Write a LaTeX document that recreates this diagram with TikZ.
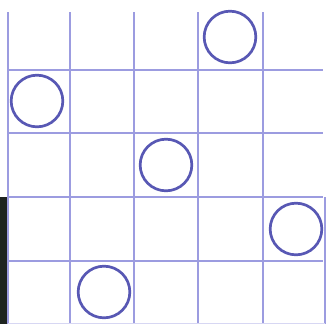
\documentclass[tikz,border=0pt]{standalone}
\usepackage{xcolor}
\usetikzlibrary{positioning}
\definecolor{gridline}{HTML}{9C9CE0}
\definecolor{ringline}{HTML}{5858B4}
\definecolor{edgeshade}{HTML}{1E2420}
\tikzset{
  gridrule/.style={draw=gridline, line width=1pt},
  ring/.style={circle, draw=ringline, line width=2.3pt, minimum size=1.55cm,
               inner sep=0pt},
  shade/.style={fill=edgeshade, draw=none}
}
\begin{document}
\begin{tikzpicture}[x=0.03cm, y=-0.03cm]
  \useasboundingbox[fill=white] (0,0) rectangle (329,324);
  % dark strip at the left edge
  \fill[shade] (0,197) rectangle (8,324);
  % grid
  \foreach \gx in {8,70,134,198,263}
    \draw[gridrule] (\gx,12) -- (\gx,324);
  \foreach \gy in {70,133,197,261}
    \draw[gridrule] (8,\gy) -- (323,\gy);
  \draw[gridrule] (325,197) -- (325,324);
  \draw[gridrule, draw=gridline!40] (8,323.5) -- (325,323.5);
  % rings
  \node[ring] (a) at (230,37) {};
  \node[ring] (b) at (37,101) {};
  \node[ring] (c) at (166,165) {};
  \node[ring] (d) at (296,229) {};
  \node[ring] (e) at (104,292) {};
\end{tikzpicture}
\end{document}
